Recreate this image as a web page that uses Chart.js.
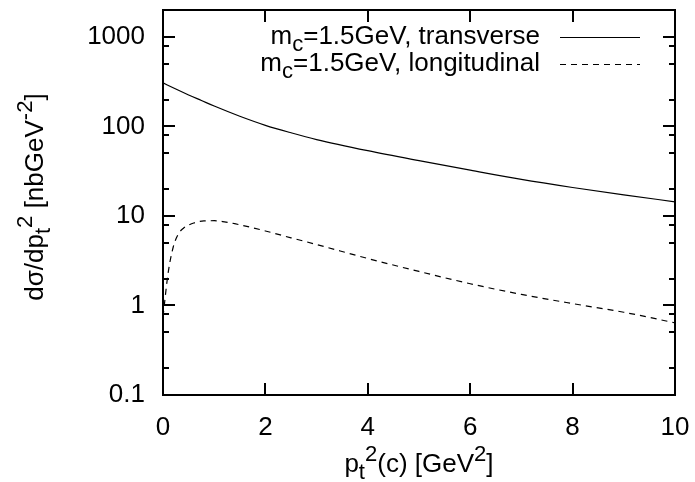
<!DOCTYPE html>
<html>
<head>
<meta charset="utf-8">
<script src="https://cdn.jsdelivr.net/npm/chart.js@4.4.1/dist/chart.umd.min.js"></script>
<style>
  html, body { margin: 0; padding: 0; background: #fff; }
  #wrap { width: 695px; height: 482px; }
</style>
</head>
<body>
<div id="wrap"><canvas id="chart" width="695" height="482"></canvas></div>
<script>
// cross sections (nb GeV^-2) vs pt^2 (GeV^2)
const transverseX = [0, 0.25, 0.5, 0.75, 1, 1.5, 2, 2.5, 3, 4, 5, 6, 7, 8, 9, 10];
const transverse = [307, 262, 225, 195, 169, 130, 103, 85, 71.4, 53.6, 41.5, 32.5, 25.6, 20.8, 17.2, 14.4];
const longitudinalX = [0, 0.1, 0.2, 0.3, 0.4, 0.5, 0.6, 0.8, 1.0, 1.2, 1.4, 1.7, 2, 2.5, 3, 4, 5, 6, 7, 8, 9, 10];
const longitudinal = [0.75, 2.3, 4.5, 6.3, 7.3, 7.9, 8.35, 8.8, 8.85, 8.6, 8.2, 7.5, 6.8, 5.7, 4.8, 3.35, 2.4, 1.75, 1.33, 1.05, 0.84, 0.64];

const xTicks = [0, 2, 4, 6, 8, 10];
const yTicks = [0.1, 0.2, 0.5, 0.8, 1, 2, 5, 8, 10, 20, 50, 80, 100, 200, 500, 800, 1000, 2000];
const yLabels = { 0.1: '0.1', 1: '1', 10: '10', 100: '100', 1000: '1000' };

const FONT = '"Liberation Sans", Arial, sans-serif';
const FS = 26;
const SMALL = 0.85;

// text made of parts; part.s = 'sub' | 'sup'
function richWidth(ctx, parts) {
  let w = 0;
  parts.forEach(p => {
    ctx.font = (p.s ? FS * SMALL : FS) + 'px ' + FONT;
    w += ctx.measureText(p.t).width;
  });
  return w;
}
function drawRich(ctx, parts, x, y) {
  let cx = x;
  parts.forEach(p => {
    ctx.font = (p.s ? FS * SMALL : FS) + 'px ' + FONT;
    const dy = p.s === 'sub' ? FS * 0.3 : p.s === 'sup' ? -FS * 0.38 : 0;
    ctx.fillText(p.t, cx, y + dy);
    cx += ctx.measureText(p.t).width;
  });
}

const legendRows = [
  { parts: [{ t: 'm' }, { t: 'c', s: 'sub' }, { t: '=1.5GeV, transverse' }], dash: [] },
  { parts: [{ t: 'm' }, { t: 'c', s: 'sub' }, { t: '=1.5GeV, longitudinal' }], dash: [6, 5] }
];
const xTitle = [{ t: 'p' }, { t: 't', s: 'sub' }, { t: '2', s: 'sup' }, { t: '(c) [GeV' }, { t: '2', s: 'sup' }, { t: ']' }];
const yTitle = [{ t: 'dσ/dp' }, { t: 't', s: 'sub' }, { t: '2', s: 'sup' }, { t: ' [nbGeV' }, { t: '-2', s: 'sup' }, { t: ']' }];

const framePlugin = {
  id: 'frame',
  afterDatasetsDraw(chart) {
    const { ctx, chartArea: a, scales } = chart;
    ctx.save();
    ctx.strokeStyle = '#000';
    ctx.lineWidth = 2;
    ctx.beginPath();
    xTicks.forEach(v => {
      const px = Math.round(scales.x.getPixelForValue(v));
      ctx.moveTo(px, a.bottom); ctx.lineTo(px, a.bottom - 12);
      ctx.moveTo(px, a.top); ctx.lineTo(px, a.top + 12);
    });
    yTicks.forEach(v => {
      const py = Math.round(scales.y.getPixelForValue(v));
      const len = yLabels[v] ? 12 : 6;
      ctx.moveTo(a.left, py); ctx.lineTo(a.left + len, py);
      ctx.moveTo(a.right, py); ctx.lineTo(a.right - len, py);
    });
    ctx.stroke();
    ctx.strokeRect(a.left, a.top, a.right - a.left, a.bottom - a.top);

    // legend
    ctx.fillStyle = '#000';
    ctx.textBaseline = 'middle';
    ctx.textAlign = 'left';
    legendRows.forEach((r, i) => {
      const y = 37 + i * 27;
      const w = richWidth(ctx, r.parts);
      drawRich(ctx, r.parts, 540 - w, y);
      ctx.lineWidth = 1.2;
      ctx.setLineDash(r.dash);
      ctx.beginPath();
      ctx.moveTo(560, y + 0.5); ctx.lineTo(640, y + 0.5);
      ctx.stroke();
      ctx.setLineDash([]);
    });

    // axis titles
    const xw = richWidth(ctx, xTitle);
    drawRich(ctx, xTitle, (a.left + a.right) / 2 - xw / 2, 465);
    const yw = richWidth(ctx, yTitle);
    ctx.translate(36, 197);
    ctx.rotate(-Math.PI / 2);
    drawRich(ctx, yTitle, -yw / 2, 0);
    ctx.restore();
  }
};

new Chart(document.getElementById('chart'), {
  type: 'line',
  data: {
    datasets: [
      {
        label: 'transverse',
        data: transverseX.map((x, i) => ({ x, y: transverse[i] })),
        borderColor: '#000',
        borderWidth: 1.2,
        pointRadius: 0,
        cubicInterpolationMode: 'monotone'
      },
      {
        label: 'longitudinal',
        data: longitudinalX.map((x, i) => ({ x, y: longitudinal[i] })),
        borderColor: '#000',
        borderWidth: 1.2,
        borderDash: [6, 5],
        pointRadius: 0,
        cubicInterpolationMode: 'monotone'
      }
    ]
  },
  options: {
    responsive: false,
    animation: false,
    devicePixelRatio: 1,
    layout: { padding: { left: 0, right: 20, top: 10, bottom: 0 } },
    plugins: { legend: { display: false }, tooltip: { enabled: false } },
    scales: {
      x: {
        type: 'linear',
        min: 0, max: 10,
        grid: { display: false, drawTicks: false },
        border: { display: false },
        afterBuildTicks: s => { s.ticks = xTicks.map(v => ({ value: v })); },
        ticks: { color: '#000', font: { family: FONT, size: FS }, padding: 17, maxRotation: 0 },
        afterFit: s => { s.height = 87; s.paddingLeft = 0; s.paddingRight = 0; }
      },
      y: {
        type: 'logarithmic',
        min: 0.1, max: 2000,
        grid: { display: false, drawTicks: false },
        border: { display: false },
        afterBuildTicks: s => { s.ticks = yTicks.map(v => ({ value: v })); },
        ticks: {
          color: '#000', font: { family: FONT, size: FS }, padding: 18, autoSkip: false,
          callback: v => yLabels[v] || ''
        },
        afterFit: s => { s.width = 163; s.paddingTop = 0; s.paddingBottom = 0; }
      }
    }
  },
  plugins: [framePlugin]
});
</script>
</body>
</html>
